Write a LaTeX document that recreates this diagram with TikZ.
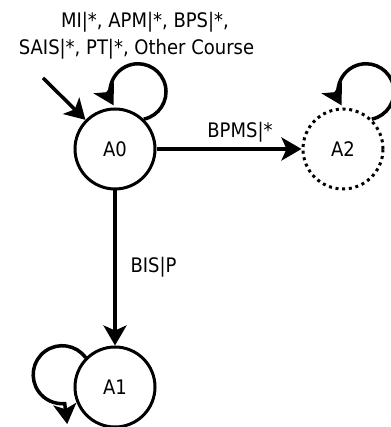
\documentclass[tikz,border=0pt]{standalone}
\usepackage{fontspec}
\setmainfont{DejaVu Sans Condensed}
\usetikzlibrary{arrows.meta}
\begin{document}
\begin{tikzpicture}[x=1pt,y=1pt,
  txt/.style={font=\fontsize{20}{24}\selectfont},
  state/.style={circle,draw,line width=3pt,minimum size=80pt,inner sep=0pt,txt},
  dotstate/.style={state,dash pattern=on 3pt off 3.7pt},
  trans/.style={line width=3.5pt,-{Stealth[length=20pt,width=23pt,inset=5pt]}},
  lbl/.style={txt,inner sep=0pt,anchor=base}]
\useasboundingbox (0,0) rectangle (390,427);

% states
\node[state]    (A0) at (115,278) {A0};
\node[dotstate] (A2) at (343,278) {A2};
\node[state]    (A1) at (115,40)  {A1};

% initial arrow
\coordinate (init) at (43,349);
\draw[trans] (init) -- (A0);

% transitions between states
\draw[trans] (A0) -- (A2);
\draw[trans] (A0) -- (A1);

% self loops
\draw[trans] (A0.46) arc[start angle=-78,end angle=209,radius=28];
\draw[trans] (A2.46) arc[start angle=-78,end angle=209,radius=28];
\draw[trans] (A1.135) arc[start angle=36,end angle=275,radius=29] -- ++(2.5,-20.5);

% labels
\node[lbl] (l1) at (145,399) {MI|*, APM|*, BPS|*,};
\node[lbl] (l2) at (136.5,372) {SAIS|*, PT|*, Other Course};
\node[lbl] (lbpms) at (240,289.5) {BPMS|*};
\node[lbl] (lbis) at (153.5,154) {BIS|P};
\end{tikzpicture}
\end{document}
